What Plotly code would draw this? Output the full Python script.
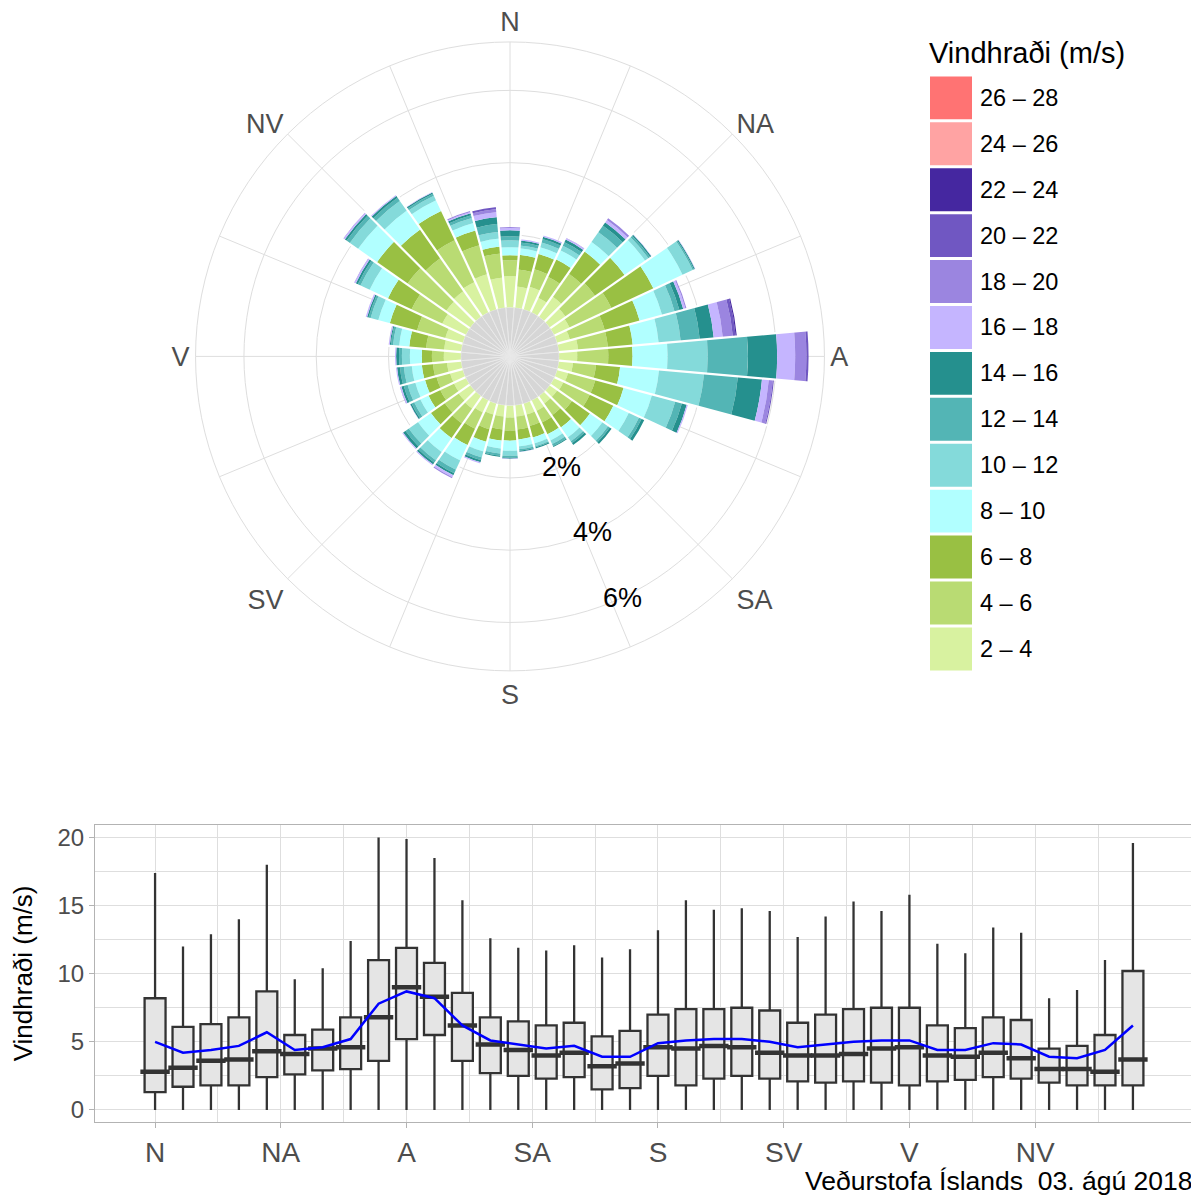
import math
import plotly.graph_objects as go

# the page body adds an 8 px margin, so the figure is drawn 8 px smaller and offset
OFF = 8
W, H = 1199 - OFF, 1198 - OFF

# Wind directions (degrees) and compass labels (Icelandic)
directions = [0, 10, 20, 30, 40, 50, 60, 70, 80, 90, 100, 110,
              120, 130, 140, 150, 160, 170, 180, 190, 200, 210, 220, 230,
              240, 250, 260, 270, 280, 290, 300, 310, 320, 330, 340, 350]
compass_angles = [0, 45, 90, 135, 180, 225, 270, 315]
compass_labels = ["N", "NA", "A", "SA", "S", "SV", "V", "NV"]

# radial rings of the rose (%)
pct_ticks = [2, 4, 6]
pct_labels = ["2%", "4%", "6%"]

# Speed classes (m/s) and their colours
speed_bins = ["2 – 4", "4 – 6", "6 – 8", "8 – 10", "10 – 12", "12 – 14", "14 – 16",
              "16 – 18", "18 – 20", "20 – 22", "22 – 24", "24 – 26", "26 – 28"]
bin_colors = ["#D8F2A0", "#B9DB73", "#99C043", "#B1FFFF", "#84DADA", "#53B5B5", "#25908E",
              "#C5B5FF", "#9B85E0", "#7057C2", "#4527A0", "#FFA3A3", "#FF7373"]

# Frequency (%) per direction for each speed class
freq_2_4 = [0.86, 0.58, 0.64, 0.44, 0.67, 0.53, 0.47, 0.36, 0.53, 0.50, 0.39, 0.31,
            0.28, 0.25, 0.25, 0.31, 0.31, 0.31, 0.33, 0.31, 0.31, 0.36, 0.42, 0.39,
            0.36, 0.36, 0.39, 0.47, 0.47, 0.50, 0.72, 0.81, 0.86, 0.92, 1.00, 0.83]
freq_4_6 = [0.44, 0.47, 0.50, 0.64, 0.78, 1.00, 1.28, 1.00, 0.83, 0.86, 0.64, 0.78,
            0.81, 0.50, 0.39, 0.36, 0.33, 0.36, 0.36, 0.36, 0.42, 0.50, 0.50, 0.47,
            0.42, 0.39, 0.39, 0.33, 0.50, 0.81, 0.94, 1.31, 1.11, 1.28, 0.83, 0.67]
freq_6_8 = [0.14, 0.41, 0.44, 0.53, 0.75, 1.00, 1.28, 1.00, 0.69, 0.67, 0.67, 0.81,
            0.72, 0.61, 0.42, 0.36, 0.33, 0.28, 0.28, 0.31, 0.36, 0.50, 0.50, 0.47,
            0.36, 0.33, 0.31, 0.28, 0.47, 0.78, 0.72, 1.03, 0.97, 0.89, 0.42, 0.19]
freq_8_10 = [0.22, 0.18, 0.19, 0.28, 0.33, 0.69, 0.89, 0.64, 0.72, 0.97, 1.08, 0.81,
             0.47, 0.42, 0.33, 0.19, 0.17, 0.19, 0.28, 0.22, 0.28, 0.47, 0.47, 0.44,
             0.25, 0.28, 0.28, 0.33, 0.28, 0.33, 0.56, 0.64, 0.64, 0.33, 0.22, 0.22]
freq_10_12 = [0.19, 0.08, 0.14, 0.14, 0.33, 0.11, 0.31, 0.36, 0.61, 1.11, 1.25, 0.67,
              0.31, 0.19, 0.14, 0.11, 0.08, 0.08, 0.14, 0.14, 0.17, 0.28, 0.28, 0.31,
              0.19, 0.22, 0.22, 0.22, 0.17, 0.22, 0.28, 0.28, 0.33, 0.14, 0.14, 0.19]
freq_12_14 = [0.11, 0.08, 0.10, 0.11, 0.22, 0.06, 0.04, 0.14, 0.53, 1.11, 0.94, 0.19,
              0.08, 0.06, 0.06, 0.06, 0.03, 0.04, 0.05, 0.06, 0.08, 0.11, 0.08, 0.11,
              0.08, 0.11, 0.11, 0.08, 0.06, 0.06, 0.08, 0.11, 0.11, 0.06, 0.08, 0.22]
freq_14_16 = [0.17, 0.06, 0.06, 0.08, 0.11, 0.04, 0.03, 0.11, 0.39, 0.81, 0.67, 0.14,
              0.08, 0.06, 0.06, 0.03, 0.03, 0.03, 0.03, 0.03, 0.06, 0.06, 0.06, 0.08,
              0.04, 0.07, 0.08, 0.08, 0.03, 0.04, 0.06, 0.06, 0.06, 0.04, 0.06, 0.19]
freq_16_18 = [0.06, 0.03, 0.04, 0.04, 0.08, 0.01, 0.01, 0.06, 0.25, 0.50, 0.19, 0.03,
              0.00, 0.00, 0.00, 0.00, 0.00, 0.01, 0.01, 0.00, 0.03, 0.06, 0.03, 0.03,
              0.01, 0.03, 0.03, 0.03, 0.03, 0.04, 0.04, 0.04, 0.03, 0.01, 0.03, 0.14]
freq_18_20 = [0.03, 0.00, 0.00, 0.01, 0.06, 0.00, 0.00, 0.03, 0.28, 0.31, 0.11, 0.00,
              0.00, 0.00, 0.00, 0.00, 0.00, 0.00, 0.00, 0.00, 0.00, 0.03, 0.00, 0.00,
              0.00, 0.01, 0.00, 0.00, 0.00, 0.00, 0.01, 0.01, 0.00, 0.00, 0.03, 0.08]
freq_20_22 = [0.00, 0.00, 0.00, 0.00, 0.00, 0.00, 0.00, 0.00, 0.08, 0.06, 0.03, 0.00,
              0.00, 0.00, 0.00, 0.00, 0.00, 0.00, 0.00, 0.00, 0.00, 0.00, 0.00, 0.00,
              0.00, 0.00, 0.00, 0.00, 0.00, 0.00, 0.00, 0.00, 0.00, 0.00, 0.00, 0.06]
freq_22_24 = [0.00, 0.00, 0.00, 0.00, 0.00, 0.00, 0.00, 0.00, 0.03, 0.00, 0.00, 0.00,
              0.00, 0.00, 0.00, 0.00, 0.00, 0.00, 0.00, 0.00, 0.00, 0.00, 0.00, 0.00,
              0.00, 0.00, 0.00, 0.00, 0.00, 0.00, 0.00, 0.00, 0.00, 0.00, 0.00, 0.00]
rose_series = [freq_2_4, freq_4_6, freq_6_8, freq_8_10, freq_10_12, freq_12_14,
               freq_14_16, freq_16_18, freq_18_20, freq_20_22, freq_22_24]

# Wind speed statistics per direction (m/s)
speed_upper = [17.4, 12.0, 12.9, 14.0, 18.0, 9.6, 10.4, 12.4, 20.0, 19.9, 18.5, 15.4,
               12.6, 11.9, 11.7, 12.1, 11.2, 11.8, 13.2, 15.4, 14.7, 14.8, 14.6, 12.7,
               14.2, 15.3, 14.6, 15.8, 12.2, 11.5, 13.4, 13.0, 8.2, 8.8, 11.0, 19.6]
speed_q3 = [8.2, 6.1, 6.3, 6.8, 8.7, 5.5, 5.9, 6.8, 11.0, 11.9, 10.8, 8.6,
            6.8, 6.5, 6.2, 6.4, 5.4, 5.8, 7.0, 7.4, 7.4, 7.5, 7.3, 6.4,
            7.0, 7.4, 7.5, 7.5, 6.2, 6.0, 6.8, 6.6, 4.5, 4.7, 5.5, 10.2]
speed_median = [2.8, 3.1, 3.6, 3.7, 4.3, 4.1, 4.5, 4.6, 6.8, 9.0, 8.3, 6.2,
                4.8, 4.4, 4.0, 4.2, 3.2, 3.4, 4.6, 4.5, 4.7, 4.6, 4.2, 4.0,
                4.0, 4.1, 4.5, 4.6, 4.0, 3.9, 4.2, 3.8, 3.0, 3.0, 2.8, 3.7]
speed_q1 = [1.3, 1.7, 1.8, 1.8, 2.4, 2.6, 2.9, 3.0, 3.6, 5.2, 5.5, 3.6,
            2.7, 2.5, 2.3, 2.4, 1.5, 1.6, 2.5, 1.8, 2.3, 2.5, 2.3, 2.1,
            2.0, 2.1, 2.0, 1.8, 2.1, 2.2, 2.4, 2.3, 2.0, 1.8, 1.8, 1.8]
speed_lower = [0, 0, 0, 0, 0, 0, 0, 0, 0, 0, 0, 0,
               0, 0, 0, 0, 0, 0, 0, 0, 0, 0, 0, 0,
               0, 0, 0, 0, 0, 0, 0, 0, 0, 0, 0, 0]
speed_mean = [5.0, 4.2, 4.4, 4.7, 5.7, 4.4, 4.6, 5.2, 7.8, 8.7, 8.2, 6.2,
              5.1, 4.8, 4.5, 4.7, 3.9, 3.9, 4.9, 5.1, 5.2, 5.2, 5.0, 4.6,
              4.8, 5.0, 5.1, 5.1, 4.4, 4.4, 4.9, 4.8, 3.9, 3.8, 4.4, 6.2]

FONT = "Liberation Sans, Arial, sans-serif"
GRID = "#dedede"
TEXT_GREY = "#4d4d4d"

# polar geometry (reference pixels): centre, outer radius, hole radius, px per %
cx, cy = 510, 356
R_OUT = 315
R_HOLE = 49.3
PX_PER_PCT = 36.2
r_min = -R_HOLE / PX_PER_PCT
r_max = (R_OUT - R_HOLE) / PX_PER_PCT
PCT_LABEL_BEARING = 155  # compass bearing along which the % labels sit


def px_x(x):
    return (x - OFF) / W


def px_y(y):
    return 1 - (y - OFF) / H


fig = go.Figure()

# gray calm disc in the middle
fig.add_trace(go.Barpolar(
    r=[-r_min for _ in directions], theta=directions, base=r_min, width=10,
    marker=dict(color="#d6d6d6", line=dict(color="#e9e9e9", width=1)),
    showlegend=False, hoverinfo="skip", subplot="polar"))

# stacked speed classes
cum = [0.0] * len(directions)
for vals, name, color in zip(rose_series, speed_bins, bin_colors):
    fig.add_trace(go.Barpolar(
        r=vals, theta=directions, base=list(cum), width=10, name=name,
        marker=dict(color=color, line=dict(width=0)),
        showlegend=False, subplot="polar"))
    cum = [c + v for c, v in zip(cum, vals)]

# white separators between sectors
sep_r, sep_t = [], []
n = len(directions)
for i in range(n):
    top = max(cum[i], cum[(i + 1) % n]) + 0.05
    sep_r += [0, top, None]
    sep_t += [directions[i] + 5, directions[i] + 5, None]
fig.add_trace(go.Scatterpolar(r=sep_r, theta=sep_t, mode="lines",
                              line=dict(color="white", width=2.2),
                              showlegend=False, hoverinfo="skip", subplot="polar"))

# box plot of wind speed per direction
fig.add_trace(go.Box(
    x=directions, q1=speed_q1, median=speed_median, q3=speed_q3,
    lowerfence=speed_lower, upperfence=speed_upper, width=7.5, whiskerwidth=0,
    fillcolor="#e5e5e5", line=dict(color="#333333", width=2.3),
    boxpoints=False, showlegend=False, hoverinfo="skip", xaxis="x", yaxis="y"))
fig.add_trace(go.Scatter(
    x=directions, y=speed_median, mode="markers",
    marker=dict(symbol="line-ew", size=21, line=dict(color="#333333", width=4.5)),
    showlegend=False, hoverinfo="skip", xaxis="x", yaxis="y"))
fig.add_trace(go.Scatter(
    x=directions, y=speed_mean, mode="lines", line=dict(color="#0000ff", width=2.5),
    showlegend=False, xaxis="x", yaxis="y"))

grid_angles = [a / 2 for a in range(0, 720, 45)]
grid_text = [compass_labels[compass_angles.index(a)] if a in compass_angles else ""
             for a in grid_angles]

fig.update_layout(
    width=W, height=H,
    margin=dict(l=0, r=0, t=0, b=0),
    paper_bgcolor="white", plot_bgcolor="white",
    font=dict(family=FONT, color="black"),
    polar=dict(
        domain=dict(x=[px_x(cx - R_OUT), px_x(cx + R_OUT)],
                    y=[px_y(cy + R_OUT), px_y(cy - R_OUT)]),
        bgcolor="white", barmode="overlay",
        radialaxis=dict(range=[r_min, r_max], tickvals=pct_ticks,
                        showticklabels=False, showline=False, ticks="",
                        gridcolor=GRID, gridwidth=1),
        angularaxis=dict(rotation=90, direction="clockwise", tickmode="array",
                         tickvals=grid_angles, ticktext=grid_text, ticks="",
                         gridcolor=GRID, gridwidth=1, showline=True,
                         linecolor=GRID, linewidth=1,
                         tickfont=dict(size=27, color=TEXT_GREY, family=FONT)),
    ),
    xaxis=dict(domain=[px_x(95), px_x(1193)], range=[-21.5, 371.5], anchor="y",
               tickmode="array", tickvals=compass_angles, ticktext=compass_labels,
               showgrid=True, gridcolor=GRID, gridwidth=1, zeroline=False,
               minor=dict(tickmode="array", tickvals=[a + 22.5 for a in compass_angles],
                          showgrid=True, gridcolor=GRID, gridwidth=0.7, ticks=""),
               ticks="outside", ticklen=5, tickcolor="#b3b3b3",
               showline=True, mirror=True, linecolor="#b3b3b3", linewidth=1,
               tickfont=dict(size=28, color=TEXT_GREY)),
    yaxis=dict(domain=[px_y(1123), px_y(825)], range=[-0.9, 20.95], anchor="x",
               tickmode="array", tickvals=[0, 5, 10, 15, 20],
               showgrid=True, gridcolor=GRID, gridwidth=1, zeroline=False,
               minor=dict(tickmode="array", tickvals=[2.5, 7.5, 12.5, 17.5],
                          showgrid=True, gridcolor=GRID, gridwidth=0.7, ticks=""),
               ticks="outside", ticklen=5, tickcolor="#b3b3b3",
               showline=True, mirror=True, linecolor="#b3b3b3", linewidth=1,
               tickfont=dict(size=24, color=TEXT_GREY),
               title=dict(text="Vindhraði (m/s)", font=dict(size=26, color="black"),
                          standoff=17)),
)

# percentage labels along one bearing, centred on their rings
b = math.radians(PCT_LABEL_BEARING)
for v, txt in zip(pct_ticks, pct_labels):
    rp = R_HOLE + v * PX_PER_PCT
    fig.add_annotation(x=px_x(cx + rp * math.sin(b)), y=px_y(cy - rp * math.cos(b)),
                       xref="paper", yref="paper", text=txt, showarrow=False,
                       xanchor="center", yanchor="middle",
                       font=dict(size=27, color="black"))

# legend drawn as shapes so swatches match the original size
fig.add_annotation(x=px_x(927), y=px_y(52), xref="paper", yref="paper",
                   text="Vindhraði (m/s)", showarrow=False, xanchor="left",
                   yanchor="middle", font=dict(size=29, color="black"))
for i, (name, color) in enumerate(zip(speed_bins[::-1], bin_colors[::-1])):
    yc = 97 + 46 * i
    fig.add_shape(type="rect", xref="paper", yref="paper",
                  x0=px_x(930), x1=px_x(972), y0=px_y(yc + 21.5), y1=px_y(yc - 21.5),
                  fillcolor=color, line=dict(width=0))
    fig.add_annotation(x=px_x(978), y=px_y(yc), xref="paper", yref="paper",
                       text=name, showarrow=False, xanchor="left", yanchor="middle",
                       font=dict(size=23.5, color="black"))

fig.add_annotation(x=px_x(1195), y=px_y(1182), xref="paper", yref="paper",
                   text="Veðurstofa Íslands  03. ágú 2018", showarrow=False,
                   xanchor="right", yanchor="middle",
                   font=dict(size=26.5, color="black"))

fig.write_html("out.html")
